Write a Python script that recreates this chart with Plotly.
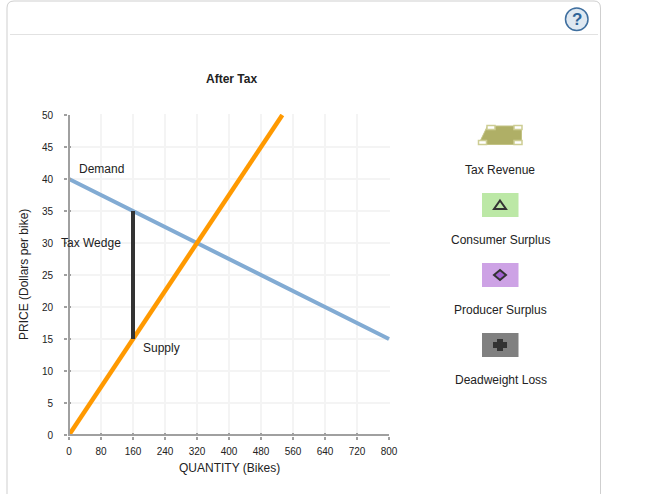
import plotly.graph_objects as go

W, H = 650, 494
# plot area is one pixel larger than the axes so the 2px axis lines are not clipped
L, R, T, B = 68, 390, 114, 436

x_ticks = list(range(0, 801, 80))
y_ticks = list(range(0, 51, 5))
x_range = [-2.5, 802.5]
y_range = [-0.15625, 50.15625]
demand_q = [0, 800]
demand_p = [40, 15]
supply_q = [0, 533.33]
supply_p = [0, 50]
wedge_q = [160, 160]
wedge_p = [15, 35]
legend_labels = ["Tax Revenue", "Consumer Surplus", "Producer Surplus", "Deadweight Loss"]

FONT = "Liberation Sans, Arial, sans-serif"
AXIS = "#a0a0a0"


def px(x):
    return (x - L) / (R - L)


def py(y):
    return (B - y) / (B - T)


def path(points, close=True):
    s = "M " + " L ".join(f"{px(a):.4f},{py(b):.4f}" for a, b in points)
    return s + (" Z" if close else "")


def shape_path(d, fill="rgba(0,0,0,0)", line=None, width=1, layer="above"):
    return dict(type="path", xref="paper", yref="paper", path=d, fillcolor=fill,
                line=dict(color=line or "rgba(0,0,0,0)", width=width), layer=layer)


def rect(x0, y0, x1, y1, fill, line=None, width=1):
    return dict(type="rect", xref="paper", yref="paper", x0=px(x0), x1=px(x1), y0=py(y0), y1=py(y1),
                fillcolor=fill, line=dict(color=line or "rgba(0,0,0,0)", width=width), layer="above")


def label(x, y, text, size=12, color="#222222", bold=False):
    return dict(xref="paper", yref="paper", x=px(x), y=py(y), text=f"<b>{text}</b>" if bold else text,
                showarrow=False, xanchor="center", yanchor="middle",
                font=dict(family=FONT, size=size, color=color))


fig = go.Figure()
fig.add_trace(go.Scatter(x=demand_q, y=demand_p, mode="lines", line=dict(color="#82abd3", width=4),
                         showlegend=False))
fig.add_trace(go.Scatter(x=supply_q, y=supply_p, mode="lines", line=dict(color="#ff9900", width=4.5),
                         showlegend=False))
fig.add_trace(go.Scatter(x=wedge_q, y=wedge_p, mode="lines", line=dict(color="#333333", width=4),
                         showlegend=False))
# inward half of the crossing tick marks
fig.add_trace(go.Scatter(x=[None], y=[None], xaxis="x2", yaxis="y2", showlegend=False))

shapes = [
    # panel frame
    dict(type="path", xref="paper", yref="paper", layer="below",
         path=path([(7, 494), (7, 8)], False) + f" Q {px(7):.4f},{py(1):.4f} {px(14):.4f},{py(1):.4f}"
         + f" L {px(594):.4f},{py(1):.4f} Q {px(600.5):.4f},{py(1):.4f} {px(600.5):.4f},{py(8):.4f}"
         + f" L {px(600.5):.4f},{py(494):.4f}",
         line=dict(color="#cfcfcf", width=1), fillcolor="rgba(0,0,0,0)"),
    dict(type="line", xref="paper", yref="paper", x0=px(10), x1=px(598), y0=py(34.5), y1=py(34.5),
         line=dict(color="#e2e2e2", width=1), layer="below"),
    # help button
    dict(type="circle", xref="paper", yref="paper", x0=px(565.5), x1=px(588), y0=py(8), y1=py(30.5),
         fillcolor="#dfe8f1", line=dict(color="#3f6f9f", width=1.5), layer="below"),
    # axis lines
    dict(type="line", xref="paper", yref="paper", x0=px(69), x1=px(69), y0=py(115), y1=py(436),
         line=dict(color=AXIS, width=2), layer="above"),
    dict(type="line", xref="paper", yref="paper", x0=px(68), x1=px(389), y0=py(435), y1=py(435),
         line=dict(color=AXIS, width=2), layer="above"),
    # tax revenue icon
    shape_path(path([(478.5, 144.5), (487.5, 126), (521.5, 126), (521.5, 144.5)]), fill="#afaf66", line="#c3c384", width=1),
    rect(487, 125.5, 495, 129.5, "#ffffff", "#cdcd94", 1.5),
    rect(514, 125.5, 522, 129.5, "#ffffff", "#cdcd94", 1.5),
    rect(514, 140.5, 522, 144.5, "#ffffff", "#cdcd94", 1.5),
    rect(478.5, 140.5, 486.5, 144.5, "#ffffff", "#cdcd94", 1.5),
    # consumer surplus icon
    rect(482, 193, 518.5, 217, "#bce8a6"),
    shape_path(path([(500, 200.5), (506, 209), (494, 209)]), fill="#bce8a6", line="#333333", width=2),
    # producer surplus icon
    rect(482, 263, 518.5, 287, "#cda2e5"),
    shape_path(path([(500, 270), (506, 275), (500, 280), (494, 275)]), fill="#a060d0", line="#333333", width=2),
    # deadweight loss icon
    rect(482, 333, 518.5, 357, "#808080"),
    shape_path(path([(497, 339), (503, 339), (503, 342), (507, 342), (507, 348), (503, 348), (503, 351),
                     (497, 351), (497, 348), (493, 348), (493, 342), (497, 342)]), fill="#333333"),
]

annotations = [
    label(231.5, 78.5, "After Tax", 12, "#222222", True),
    label(101.5, 169, "Demand"),
    label(91, 243, "Tax Wedge"),
    label(161, 348, "Supply"),
    label(229, 468, "QUANTITY (Bikes)"),
    label(577, 19.5, "?", 17, "#2f6397", True),
    label(500, 170, legend_labels[0]),
    label(500, 240, legend_labels[1]),
    label(500, 310, legend_labels[2]),
    label(500.5, 380, legend_labels[3]),
    dict(xref="paper", yref="paper", x=px(24), y=py(275), text="PRICE (Dollars per bike)", textangle=-90,
         showarrow=False, xanchor="center", yanchor="middle", font=dict(family=FONT, size=12, color="#222222")),
]

axis_common = dict(showline=False, zeroline=False,
                   showgrid=True, gridcolor="#f4f4f4", gridwidth=2,
                   ticks="outside", ticklen=3, tickwidth=2, tickcolor=AXIS,
                   tickfont=dict(family=FONT, size=10, color="#222222"))

fig.update_layout(
    width=W, height=H, autosize=False,
    margin=dict(l=L, r=W - R, t=T, b=H - B),
    paper_bgcolor="#ffffff", plot_bgcolor="#ffffff",
    showlegend=False,
    xaxis=dict(range=x_range, tickmode="array", tickvals=x_ticks, ticktext=[str(v) for v in x_ticks],
               anchor="y", ticklabelstandoff=3, **axis_common),
    yaxis=dict(range=y_range, tickmode="array", tickvals=y_ticks, ticktext=[str(v) for v in y_ticks],
               anchor="x", ticklabelstandoff=9, **axis_common),
    xaxis2=dict(range=x_range, overlaying="x", anchor="y2", tickmode="array", tickvals=x_ticks,
                showticklabels=False, showgrid=False, zeroline=False, showline=False,
                ticks="inside", ticklen=3, tickwidth=2, tickcolor=AXIS),
    yaxis2=dict(range=y_range, overlaying="y", anchor="x2", tickmode="array", tickvals=y_ticks,
                showticklabels=False, showgrid=False, zeroline=False, showline=False,
                ticks="inside", ticklen=3, tickwidth=2, tickcolor=AXIS),
    shapes=shapes,
    annotations=annotations,
)

fig.write_html("out.html", config={"displayModeBar": False},
               post_script="document.body.style.margin='0';")
